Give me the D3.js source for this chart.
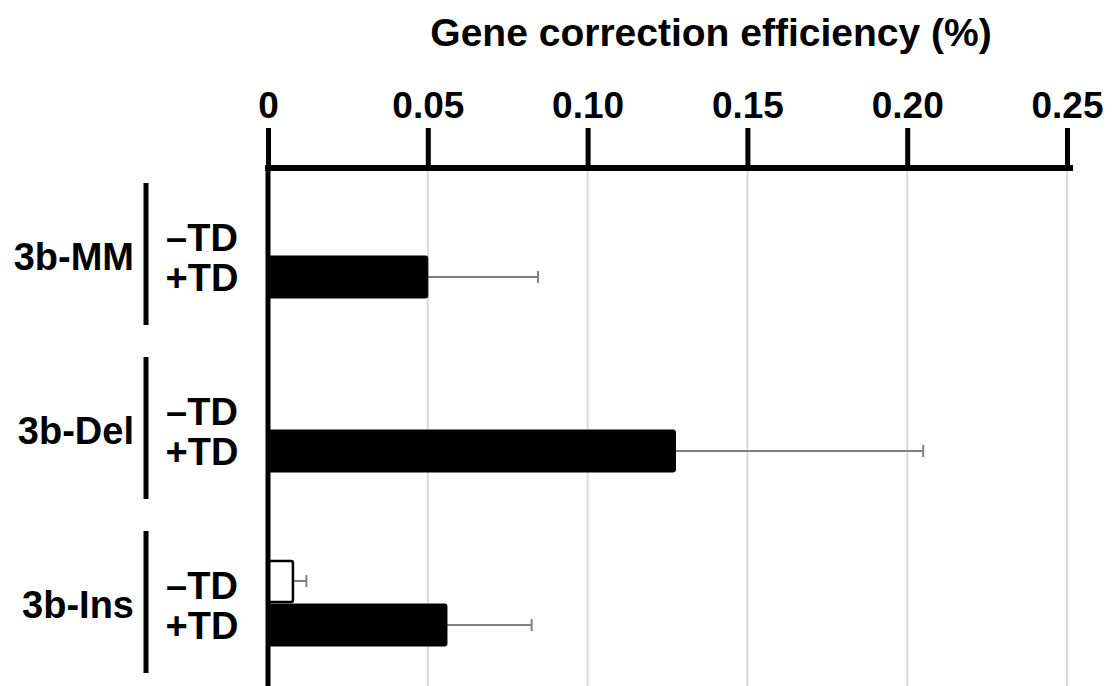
<!DOCTYPE html>
<html>
<head>
<meta charset="utf-8">
<script src="https://cdn.jsdelivr.net/npm/d3@7"></script>
<style>
	body { margin: 0; background: #fff; }
	text { font-family: "Liberation Sans", Arial, sans-serif; font-weight: bold; fill: #000; }
</style>
</head>
<body>
<div id="chart"></div>
<script>
const width = 1116;
const height = 686;

// data
const groups = ["3b-MM", "3b-Del", "3b-Ins"];
const treatments = ["\u2013TD", "+TD"];
const values = [
	[null, 0.050],
	[null, 0.1275],
	[0.0078, 0.056]
];
const errors = [
	[null, 0.0345],
	[null, 0.0775],
	[0.0042, 0.0265]
];
const ticks = [0, 0.05, 0.10, 0.15, 0.20, 0.25];
const tickLabels = ["0", "0.05", "0.10", "0.15", "0.20", "0.25"];

const svg = d3
	.select("#chart")
	.append("svg")
	.attr("width", width)
	.attr("height", height);

const x = d3.scaleLinear().domain([0, 0.25]).range([268, 1067]);
const y = d3.scaleBand().domain(groups).range([168, 690]).padding(0);
const inner = d3.scaleBand().domain(treatments).range([43, 131]).padding(0);

// title
svg.append("text")
	.attr("x", 711)
	.attr("y", 46)
	.attr("text-anchor", "middle")
	.style("font-size", "39px")
	.text("Gene correction efficiency (%)");

// gridlines
svg.append("g")
	.selectAll("line")
	.data(ticks.slice(1))
	.enter()
	.append("line")
	.attr("x1", d => x(d))
	.attr("x2", d => x(d))
	.attr("y1", 170)
	.attr("y2", height)
	.attr("stroke", "#d9d9d9")
	.attr("stroke-width", 2);

// top axis
const axis = d3.axisTop(x)
	.tickValues(ticks)
	.tickFormat((d, i) => tickLabels[i])
	.tickSize(40)
	.tickPadding(10)
	.tickSizeOuter(0);

const axisG = svg.append("g")
	.attr("transform", "translate(0,168)")
	.call(axis);
axisG.select(".domain").remove();
axisG.selectAll(".tick line").attr("stroke", "#000").attr("stroke-width", 5);
axisG.selectAll(".tick text")
	.style("font-size", "37px")
	.style("font-family", "'Liberation Sans', Arial, sans-serif")
	.style("font-weight", "bold")
	.attr("fill", "#000");

svg.append("line")
	.attr("x1", x(0) - 3)
	.attr("x2", 1073)
	.attr("y1", 168)
	.attr("y2", 168)
	.attr("stroke", "#000")
	.attr("stroke-width", 6);

// bars per group
const rows = [];
groups.forEach((g, gi) => {
	treatments.forEach((t, ti) => {
		if (values[gi][ti] != null) {
			rows.push({ group: g, treat: t, value: values[gi][ti], err: errors[gi][ti] });
		}
	});
});

const barsG = svg.append("g");

// error bars (drawn behind bars)
barsG.selectAll(".err")
	.data(rows)
	.enter()
	.append("g")
	.attr("class", "err")
	.each(function (d) {
		const cy = y(d.group) + inner(d.treat) + inner.bandwidth() / 2;
		const g = d3.select(this);
		g.append("line")
			.attr("x1", x(d.value))
			.attr("x2", x(d.value + d.err))
			.attr("y1", cy)
			.attr("y2", cy)
			.attr("stroke", "#808080")
			.attr("stroke-width", 2);
		g.append("line")
			.attr("x1", x(d.value + d.err))
			.attr("x2", x(d.value + d.err))
			.attr("y1", cy - 6)
			.attr("y2", cy + 6)
			.attr("stroke", "#808080")
			.attr("stroke-width", 2);
	});

barsG.selectAll("rect")
	.data(rows)
	.enter()
	.append("rect")
	.attr("x", x(0))
	.attr("y", d => y(d.group) + inner(d.treat) + (d.treat === "+TD" ? 1 : 2))
	.attr("width", d => x(d.value) - x(0))
	.attr("height", d => inner.bandwidth() - (d.treat === "+TD" ? 2 : 3))
	.attr("rx", 2)
	.attr("fill", d => d.treat === "+TD" ? "#000" : "#fff")
	.attr("stroke", "#000")
	.attr("stroke-width", d => d.treat === "+TD" ? 1 : 2.5);

// y axis line
svg.append("line")
	.attr("x1", x(0))
	.attr("x2", x(0))
	.attr("y1", 165)
	.attr("y2", height)
	.attr("stroke", "#000")
	.attr("stroke-width", 5);

// group labels, brackets and treatment labels
const labelG = svg.append("g")
	.selectAll("g")
	.data(groups)
	.enter()
	.append("g")
	.attr("transform", d => `translate(0,${y(d)})`);

labelG.append("text")
	.attr("x", 134)
	.attr("y", 89)
	.attr("text-anchor", "end")
	.attr("dominant-baseline", "central")
	.style("font-size", "38px")
	.text(d => d);

labelG.append("line")
	.attr("x1", 146)
	.attr("x2", 146)
	.attr("y1", 15)
	.attr("y2", 157)
	.attr("stroke", "#000")
	.attr("stroke-width", 5);

labelG.selectAll(".treat")
	.data(treatments)
	.enter()
	.append("text")
	.attr("class", "treat")
	.attr("x", 202)
	.attr("y", (d, i) => i === 0 ? 70 : 110)
	.attr("text-anchor", "middle")
	.attr("dominant-baseline", "central")
	.style("font-size", "38px")
	.text(d => d);
</script>
</body>
</html>
